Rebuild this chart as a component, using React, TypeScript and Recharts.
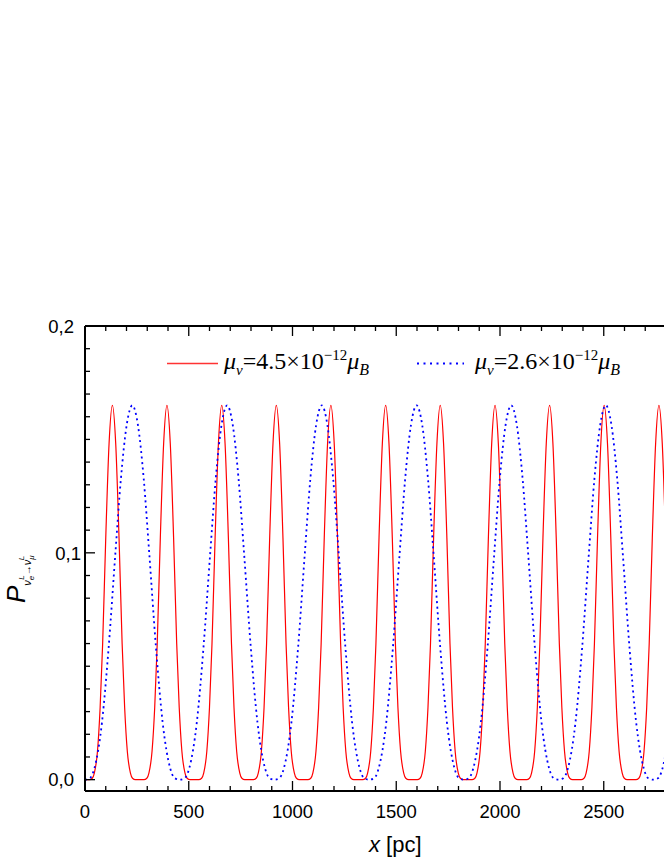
import React from 'react';
import { LineChart, Line, XAxis, YAxis } from 'recharts';

// red curve, mu = 4.5e-12 mu_B (x in pc, P values)
const redX = [
  0,
  21, 35, 45, 60, 73, 85, 100, 116, 132, 148, 164, 179, 191, 204, 219, 229, 243,
  284, 298, 308, 323, 336, 348, 363, 379, 395, 411, 427, 442, 454, 467, 482, 492, 506,
  548, 562, 572, 587, 600, 612, 627, 643, 659, 675, 691, 706, 718, 731, 746, 756, 770,
  811, 825, 835, 850, 863, 875, 890, 906, 922, 938, 954, 969, 981, 994, 1009, 1019, 1033,
  1074, 1088, 1098, 1113, 1126, 1138, 1153, 1169, 1185, 1201, 1217, 1232, 1244, 1257, 1272, 1282, 1296,
  1338, 1352, 1362, 1377, 1390, 1402, 1417, 1433, 1449, 1465, 1481, 1496, 1508, 1521, 1536, 1546, 1560,
  1601, 1615, 1625, 1640, 1653, 1665, 1680, 1696, 1712, 1728, 1744, 1759, 1771, 1784, 1799, 1809, 1823,
  1865, 1879, 1889, 1904, 1917, 1929, 1944, 1960, 1976, 1992, 2008, 2023, 2035, 2048, 2063, 2073, 2087,
  2128, 2142, 2152, 2167, 2180, 2192, 2207, 2223, 2239, 2255, 2271, 2286, 2298, 2311, 2326, 2336, 2350,
  2391, 2405, 2415, 2430, 2443, 2455, 2470, 2486, 2502, 2518, 2534, 2549, 2561, 2574, 2589, 2599, 2613,
  2655, 2669, 2679, 2694, 2707, 2719, 2734, 2750, 2766, 2782, 2798, 2813, 2825,
];
const redP = [
  0,
  0, 0.0006, 0.0029, 0.0124, 0.0319, 0.0598, 0.1066, 0.1482, 0.165, 0.1482, 0.1066, 0.0598, 0.0319, 0.0124, 0.0029, 0.0006, 0,
  0, 0.0006, 0.0029, 0.0124, 0.0319, 0.0598, 0.1066, 0.1482, 0.165, 0.1482, 0.1066, 0.0598, 0.0319, 0.0124, 0.0029, 0.0006, 0,
  0, 0.0006, 0.0029, 0.0124, 0.0319, 0.0598, 0.1066, 0.1482, 0.165, 0.1482, 0.1066, 0.0598, 0.0319, 0.0124, 0.0029, 0.0006, 0,
  0, 0.0006, 0.0029, 0.0124, 0.0319, 0.0598, 0.1066, 0.1482, 0.165, 0.1482, 0.1066, 0.0598, 0.0319, 0.0124, 0.0029, 0.0006, 0,
  0, 0.0006, 0.0029, 0.0124, 0.0319, 0.0598, 0.1066, 0.1482, 0.165, 0.1482, 0.1066, 0.0598, 0.0319, 0.0124, 0.0029, 0.0006, 0,
  0, 0.0006, 0.0029, 0.0124, 0.0319, 0.0598, 0.1066, 0.1482, 0.165, 0.1482, 0.1066, 0.0598, 0.0319, 0.0124, 0.0029, 0.0006, 0,
  0, 0.0006, 0.0029, 0.0124, 0.0319, 0.0598, 0.1066, 0.1482, 0.165, 0.1482, 0.1066, 0.0598, 0.0319, 0.0124, 0.0029, 0.0006, 0,
  0, 0.0006, 0.0029, 0.0124, 0.0319, 0.0598, 0.1066, 0.1482, 0.165, 0.1482, 0.1066, 0.0598, 0.0319, 0.0124, 0.0029, 0.0006, 0,
  0, 0.0006, 0.0029, 0.0124, 0.0319, 0.0598, 0.1066, 0.1482, 0.165, 0.1482, 0.1066, 0.0598, 0.0319, 0.0124, 0.0029, 0.0006, 0,
  0, 0.0006, 0.0029, 0.0124, 0.0319, 0.0598, 0.1066, 0.1482, 0.165, 0.1482, 0.1066, 0.0598, 0.0319, 0.0124, 0.0029, 0.0006, 0,
  0, 0.0006, 0.0029, 0.0124, 0.0319, 0.0598, 0.1066, 0.1482, 0.165, 0.1482, 0.1066, 0.0598, 0.0319,
];

// blue dotted curve, mu = 2.6e-12 mu_B
const blueX = [
  0,
  23, 45, 82, 114, 146, 173, 201, 228, 255, 283, 310, 342, 374, 411, 433, 456,
  480, 502, 539, 571, 603, 630, 658, 685, 712, 740, 767, 799, 831, 868, 890, 913,
  936, 958, 995, 1027, 1059, 1086, 1114, 1141, 1168, 1196, 1223, 1255, 1287, 1324, 1346, 1369,
  1393, 1415, 1452, 1484, 1516, 1543, 1571, 1598, 1625, 1653, 1680, 1712, 1744, 1781, 1803, 1826,
  1849, 1871, 1908, 1940, 1972, 1999, 2027, 2054, 2081, 2109, 2136, 2168, 2200, 2237, 2259, 2282,
  2305, 2327, 2364, 2396, 2428, 2455, 2483, 2510, 2537, 2565, 2592, 2624, 2656, 2693, 2715, 2738,
  2761, 2783, 2820,
];
const blueP = [
  0,
  0.0006, 0.0049, 0.0254, 0.0583, 0.0993, 0.1326, 0.1564, 0.165, 0.1564, 0.1326, 0.0993, 0.0583, 0.0254, 0.0049, 0.0006, 0,
  0.0006, 0.0049, 0.0254, 0.0583, 0.0993, 0.1326, 0.1564, 0.165, 0.1564, 0.1326, 0.0993, 0.0583, 0.0254, 0.0049, 0.0006, 0,
  0.0006, 0.0049, 0.0254, 0.0583, 0.0993, 0.1326, 0.1564, 0.165, 0.1564, 0.1326, 0.0993, 0.0583, 0.0254, 0.0049, 0.0006, 0,
  0.0006, 0.0049, 0.0254, 0.0583, 0.0993, 0.1326, 0.1564, 0.165, 0.1564, 0.1326, 0.0993, 0.0583, 0.0254, 0.0049, 0.0006, 0,
  0.0006, 0.0049, 0.0254, 0.0583, 0.0993, 0.1326, 0.1564, 0.165, 0.1564, 0.1326, 0.0993, 0.0583, 0.0254, 0.0049, 0.0006, 0,
  0.0006, 0.0049, 0.0254, 0.0583, 0.0993, 0.1326, 0.1564, 0.165, 0.1564, 0.1326, 0.0993, 0.0583, 0.0254, 0.0049, 0.0006, 0,
  0.0006, 0.0049, 0.0254,
];

const xTicks = [
  0, 100, 200, 300, 400, 500, 600, 700, 800, 900, 1000, 1100, 1200, 1300, 1400,
  1500, 1600, 1700, 1800, 1900, 2000, 2100, 2200, 2300, 2400, 2500, 2600, 2700, 2800,
];
const xMajor = [0, 500, 1000, 1500, 2000, 2500];
const yTicks = [
  0, 0.01, 0.02, 0.03, 0.04, 0.05, 0.06, 0.07, 0.08, 0.09, 0.1,
  0.11, 0.12, 0.13, 0.14, 0.15, 0.16, 0.17, 0.18, 0.19, 0.2,
];
const yMajor = [0, 0.1, 0.2];
const yMajorLabels = ['0,0', '0,1', '0,2'];

const redData = redX.map((x, i) => ({ x, p: redP[i] }));
const blueData = blueX.map((x, i) => ({ x, p: blueP[i] }));

const SANS = '"Liberation Sans", Arial, sans-serif';
const SERIF = '"Liberation Serif", "Times New Roman", serif';

const BottomTick = (props: any) => {
  const { x, y, payload } = props;
  const major = xMajor.includes(payload.value);
  return (
    <g>
      <line x1={x} x2={x} y1={y} y2={y - (major ? 10 : 5)} stroke="#000" strokeWidth={1.3} />
      {major && (
        <text x={x} y={y + 26.5} textAnchor="middle" fontSize={18.5} fontFamily={SANS} fill="#000">
          {payload.value}
        </text>
      )}
    </g>
  );
};

const TopTick = (props: any) => {
  const { x, y, payload } = props;
  const major = xMajor.includes(payload.value);
  return <line x1={x} x2={x} y1={y} y2={y + (major ? 10 : 5)} stroke="#000" strokeWidth={1.3} />;
};

const LeftTick = (props: any) => {
  const { x, y, payload } = props;
  const idx = yMajor.findIndex((m) => Math.abs(m - payload.value) < 1e-9);
  const major = idx >= 0;
  // the middle label sits closer to the axis in the original
  const gap = idx === 1 ? 4 : 11;
  return (
    <g>
      <line x1={x} x2={x + (major ? 10 : 5)} y1={y} y2={y} stroke="#000" strokeWidth={1.3} />
      {major && (
        <text x={x - gap} y={y + 6.8} textAnchor="end" fontSize={18.5} fontFamily={SANS} fill="#000">
          {yMajorLabels[idx]}
        </text>
      )}
    </g>
  );
};

export default function App() {
  return (
    <div style={{ position: 'absolute', left: 0, top: 0, width: 664, height: 860, overflow: 'hidden', background: '#fff' }}>
      <LineChart width={680} height={860} margin={{ top: 306, right: 14, bottom: 39, left: 45 }}>
        <XAxis
          dataKey="x"
          type="number"
          domain={[0, 2800]}
          allowDataOverflow
          ticks={xTicks}
          interval={0}
          height={30}
          tickSize={0}
          tickMargin={0}
          tickLine={false}
          axisLine={{ stroke: '#000', strokeWidth: 2 }}
          tick={<BottomTick />}
        />
        <XAxis
          xAxisId="top"
          orientation="top"
          dataKey="x"
          type="number"
          domain={[0, 2800]}
          allowDataOverflow
          ticks={xTicks}
          interval={0}
          height={20}
          tickSize={0}
          tickMargin={0}
          tickLine={false}
          axisLine={{ stroke: '#000', strokeWidth: 2 }}
          tick={<TopTick />}
        />
        <YAxis
          type="number"
          domain={[-0.005, 0.2]}
          allowDataOverflow
          ticks={yTicks}
          interval={0}
          width={40}
          tickSize={0}
          tickMargin={0}
          tickLine={false}
          axisLine={{ stroke: '#000', strokeWidth: 2 }}
          tick={<LeftTick />}
        />
        <Line
          data={redData}
          dataKey="p"
          type="monotone"
          stroke="#ff0000"
          strokeWidth={1.2}
          dot={false}
          isAnimationActive={false}
        />
        <Line
          data={blueData}
          dataKey="p"
          type="monotone"
          stroke="#0000ff"
          strokeWidth={1.8}
          strokeDasharray="2 3.5"
          dot={false}
          isAnimationActive={false}
        />
      </LineChart>
      <svg width={664} height={860} style={{ position: 'absolute', left: 0, top: 0, pointerEvents: 'none' }}>
        {/* legend */}
        <line x1={167} x2={218} y1={363.5} y2={363.5} stroke="#ff3333" strokeWidth={1.3} />
        <text x={224} y={368.5} fontFamily={SERIF} fontSize={24} fill="#000">
          <tspan fontStyle="italic">μ</tspan>
          <tspan fontStyle="italic" fontSize={15} dy={6}>ν</tspan>
          <tspan dy={-6}>=4.5×10</tspan>
          <tspan fontSize={15} dy={-9}>−12</tspan>
          <tspan fontStyle="italic" dy={9}>μ</tspan>
          <tspan fontStyle="italic" fontSize={16} dy={6}>B</tspan>
        </text>
        <line x1={417} x2={464} y1={363.5} y2={363.5} stroke="#0000ff" strokeWidth={1.8} strokeDasharray="2 4.5" />
        <text x={475} y={368.5} fontFamily={SERIF} fontSize={24} fill="#000">
          <tspan fontStyle="italic">μ</tspan>
          <tspan fontStyle="italic" fontSize={15} dy={6}>ν</tspan>
          <tspan dy={-6}>=2.6×10</tspan>
          <tspan fontSize={15} dy={-9}>−12</tspan>
          <tspan fontStyle="italic" dy={9}>μ</tspan>
          <tspan fontStyle="italic" fontSize={16} dy={6}>B</tspan>
        </text>
        {/* x axis title */}
        <text x={369} y={852} fontFamily={SANS} fontSize={22} fill="#000">
          <tspan fontStyle="italic">x</tspan> [pc]
        </text>
        {/* y axis title */}
        <text transform="rotate(-90)" x={-603} y={25} fontFamily={SANS} fontSize={26} fontStyle="italic" fill="#000">
          P
          <tspan fontSize={11} dy={6}>ν</tspan>
          <tspan fontSize={8} dy={3}>e</tspan>
          <tspan fontSize={8} dx={-4} dy={-10}>L</tspan>
          <tspan fontSize={10} fontStyle="normal" dy={7}>→</tspan>
          <tspan fontSize={11}>ν</tspan>
          <tspan fontSize={8} dy={3}>μ</tspan>
          <tspan fontSize={8} dx={-5} dy={-10}>L</tspan>
        </text>
      </svg>
    </div>
  );
}
